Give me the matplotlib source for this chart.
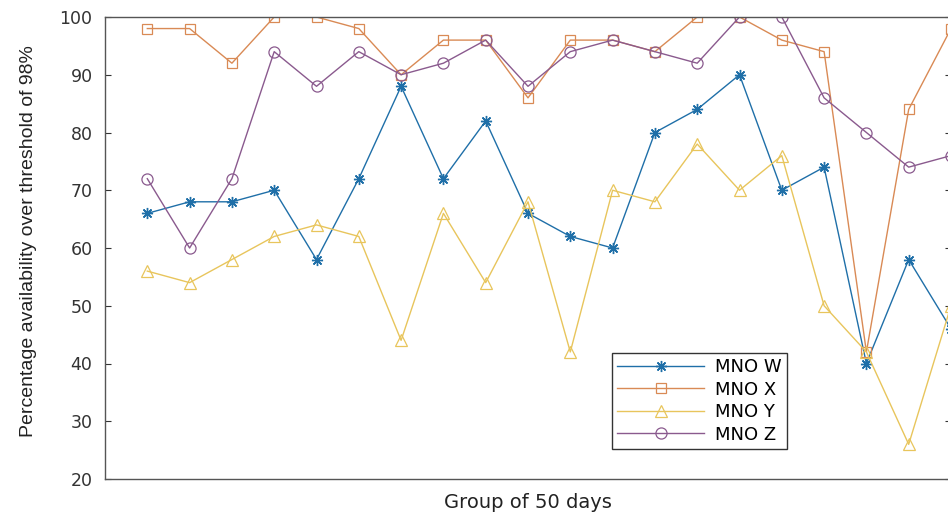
import numpy as np
import matplotlib
matplotlib.use("Agg")
from matplotlib import pyplot as plt

# groups of 50 days (x positions, no tick labels shown)
groups = np.arange(1, 21)

# percentage availability over threshold of 98%
mno_w = [66, 68, 68, 70, 58, 72, 88, 72, 82, 66, 62, 60, 80, 84, 90, 70, 74, 40, 58, 46]
mno_x = [98, 98, 92, 100, 100, 98, 90, 96, 96, 86, 96, 96, 94, 100, 100, 96, 94, 42, 84, 98]
mno_y = [56, 54, 58, 62, 64, 62, 44, 66, 54, 68, 42, 70, 68, 78, 70, 76, 50, 42, 26, 50]
mno_z = [72, 60, 72, 94, 88, 94, 90, 92, 96, 88, 94, 96, 94, 92, 100, 100, 86, 80, 74, 76]

labels = ["MNO W", "MNO X", "MNO Y", "MNO Z"]
y_ticks = [20, 30, 40, 50, 60, 70, 80, 90, 100]

fig = plt.figure(figsize=(9.48, 5.14), dpi=100)
ax = fig.add_axes([105/948, 1 - 479/514, 846/948, 462/514])

lw = 1.0
ax.plot(groups, mno_w, color='#1f6fa8', lw=lw, marker=(8, 2, 0), ms=8, mew=1.0, label=labels[0])
ax.plot(groups, mno_x, color='#d98a55', lw=lw, marker='s', ms=6.5, mfc='none', mew=0.9, label=labels[1])
ax.plot(groups, mno_y, color='#e8c55c', lw=lw, marker='^', ms=8, mfc='none', mew=0.9, label=labels[2])
ax.plot(groups, mno_z, color='#8a5a8e', lw=lw, marker='o', ms=8, mfc='none', mew=0.9, label=labels[3])

ax.set_xlim(0, 20)
ax.set_ylim(20, 100)
ax.set_xticks([])
ax.set_yticks(y_ticks)
ax.tick_params(axis='y', direction='in', right=True, length=4, width=0.8,
               labelsize=12.5, pad=9, colors='#333333')
for sp in ax.spines.values():
    sp.set_color('#555555')
    sp.set_linewidth(1.0)

ax.set_xlabel("Group of 50 days", fontsize=14, color='#222222', labelpad=10)
ax.set_ylabel("Percentage availability over threshold of 98%", fontsize=14,
              family=['Liberation Sans', 'DejaVu Sans'], color='#222222')
ax.yaxis.set_label_coords(-0.08, 0.514)

leg = ax.legend(loc='lower left', bbox_to_anchor=(0.599, 0.065), fontsize=13,
                handlelength=4.8, handletextpad=0.6, labelspacing=0.25,
                borderpad=0.3, borderaxespad=0, fancybox=False, framealpha=1,
                edgecolor='#333333')
leg.get_frame().set_linewidth(1.0)

fig.savefig("out.png", dpi=100)
